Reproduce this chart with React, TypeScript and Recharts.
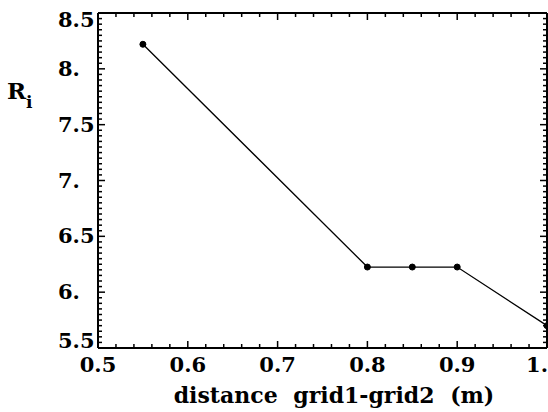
import React from 'react';
import { LineChart, Line, XAxis, YAxis } from 'recharts';

// distance between grid 1 and grid 2 (m) vs R_i
const distance = [0.55, 0.8, 0.85, 0.9, 1.0];
const riValues = [8.22, 6.225, 6.225, 6.225, 5.7];

const xMajor = [0.5, 0.6, 0.7, 0.8, 0.9, 1.0];
const xLabels = ['0.5', '0.6', '0.7', '0.8', '0.9', '1.'];
const yMajor = [5.5, 6, 6.5, 7, 7.5, 8, 8.5];
const yLabels = ['5.5', '6.', '6.5', '7.', '7.5', '8.', '8.5'];

const data = distance.map((d, i) => ({ d, ri: riValues[i] }));

// minor tick positions (every 0.02 on x, every 0.05 on y)
const xMinor: number[] = [];
for (let i = 0; i <= 25; i++) xMinor.push(Math.round((0.5 + i * 0.02) * 100) / 100);
const yMinor: number[] = [];
for (let i = 0; i <= 60; i++) yMinor.push(Math.round((5.5 + i * 0.05) * 100) / 100);

const font = "'DejaVu Serif', serif";

const findIdx = (v: number, majors: number[]) => majors.findIndex((m) => Math.abs(m - v) < 1e-6);
const xLen = (v: number) => (findIdx(v, xMajor) >= 0 ? 7 : 4);
const yLen = (v: number) => (findIdx(v, yMajor) >= 0 ? 7 : 4);

const TickUp = (props: any) => {
    const { x, y, payload } = props;
    return <line x1={x} y1={y} x2={x} y2={y - xLen(payload.value)} stroke="#000" strokeWidth={1.5} />;
};
const TickDown = (props: any) => {
    const { x, y, payload } = props;
    return <line x1={x} y1={y} x2={x} y2={y + xLen(payload.value)} stroke="#000" strokeWidth={1.5} />;
};
const TickRight = (props: any) => {
    const { x, y, payload } = props;
    return <line x1={x} y1={y} x2={x + yLen(payload.value)} y2={y} stroke="#000" strokeWidth={1.5} />;
};
const TickLeft = (props: any) => {
    const { x, y, payload } = props;
    return <line x1={x} y1={y} x2={x - yLen(payload.value)} y2={y} stroke="#000" strokeWidth={1.5} />;
};

const BottomLabel = (props: any) => {
    const { x, y, payload } = props;
    const i = findIdx(payload.value, xMajor);
    if (i < 0) return null;
    const last = i === xMajor.length - 1;
    return (
        <g>
            <text x={last ? 548 : x} y={y + 24} textAnchor={last ? 'end' : 'middle'} fontFamily={font} fontWeight="bold" fontSize={21} fill="#000">
                {xLabels[i]}
            </text>
            {i === 0 && (
                <text x={334} y={y + 55} textAnchor="middle" fontFamily={font} fontWeight="bold" fontSize={22} wordSpacing={8} fill="#000">
                    distance grid1-grid2 (m)
                </text>
            )}
        </g>
    );
};

const LeftLabel = (props: any) => {
    const { y, payload } = props;
    const i = findIdx(payload.value, yMajor);
    if (i < 0) return null;
    let dy = 7;
    if (i === yMajor.length - 1) dy = 14;
    if (i === 0) dy = 0;
    return (
        <g>
            <text x={58} y={y + dy} textAnchor="start" fontFamily={font} fontWeight="bold" fontSize={21} fill="#000">
                {yLabels[i]}
            </text>
            {i === yMajor.length - 1 && (
                <text fontFamily={font} fontWeight="bold" fill="#000">
                    <tspan x={7} y={y + 86} fontSize={23}>R</tspan>
                    <tspan x={26} y={y + 95} fontSize={17}>i</tspan>
                </text>
            )}
        </g>
    );
};

const Dot = (props: any) => {
    const { cx, cy, index } = props;
    if (cx == null || cy == null) return null;
    return <circle key={`dot-${index}`} cx={cx} cy={cy} r={3} fill="#000" stroke="#000" strokeWidth={1} />;
};

const App = () => {
    return (
        <div style={{ position: 'absolute', left: 0, top: 0, background: '#fff' }}>
            <LineChart width={548} height={412} data={data} margin={{ top: 13, right: 1, left: 0, bottom: 0 }}>
                <XAxis
                    dataKey="d"
                    type="number"
                    domain={[0.5, 1.0]}
                    ticks={xMajor}
                    interval={0}
                    height={64}
                    tickSize={0}
                    tickMargin={0}
                    tickLine={false}
                    tick={<BottomLabel />}
                    axisLine={{ stroke: '#000', strokeWidth: 2 }}
                />
                <XAxis
                    xAxisId="bt"
                    mirror
                    dataKey="d"
                    type="number"
                    domain={[0.5, 1.0]}
                    ticks={xMinor}
                    interval={0}
                    height={10}
                    tickSize={0}
                    tickMargin={0}
                    tickLine={false}
                    axisLine={false}
                    tick={<TickUp />}
                />
                <XAxis
                    xAxisId="tp"
                    orientation="top"
                    mirror
                    dataKey="d"
                    type="number"
                    domain={[0.5, 1.0]}
                    ticks={xMinor}
                    interval={0}
                    height={10}
                    tickSize={0}
                    tickMargin={0}
                    tickLine={false}
                    tick={<TickDown />}
                    axisLine={{ stroke: '#000', strokeWidth: 2 }}
                />
                <YAxis
                    type="number"
                    domain={[5.5, 8.5]}
                    ticks={yMajor}
                    interval={0}
                    width={98}
                    tickSize={0}
                    tickMargin={0}
                    tickLine={false}
                    tick={<LeftLabel />}
                    axisLine={{ stroke: '#000', strokeWidth: 2 }}
                />
                <YAxis
                    yAxisId="lt"
                    mirror
                    dataKey="ri"
                    type="number"
                    domain={[5.5, 8.5]}
                    ticks={yMinor}
                    interval={0}
                    width={10}
                    tickSize={0}
                    tickMargin={0}
                    tickLine={false}
                    axisLine={false}
                    tick={<TickRight />}
                />
                <YAxis
                    yAxisId="rt"
                    orientation="right"
                    mirror
                    dataKey="ri"
                    type="number"
                    domain={[5.5, 8.5]}
                    ticks={yMinor}
                    interval={0}
                    width={10}
                    tickSize={0}
                    tickMargin={0}
                    tickLine={false}
                    tick={<TickLeft />}
                    axisLine={{ stroke: '#000', strokeWidth: 2 }}
                />
                <Line
                    dataKey="ri"
                    type="linear"
                    stroke="#000"
                    strokeWidth={1.3}
                    dot={<Dot />}
                    isAnimationActive={false}
                />
            </LineChart>
        </div>
    );
};

export default App;
